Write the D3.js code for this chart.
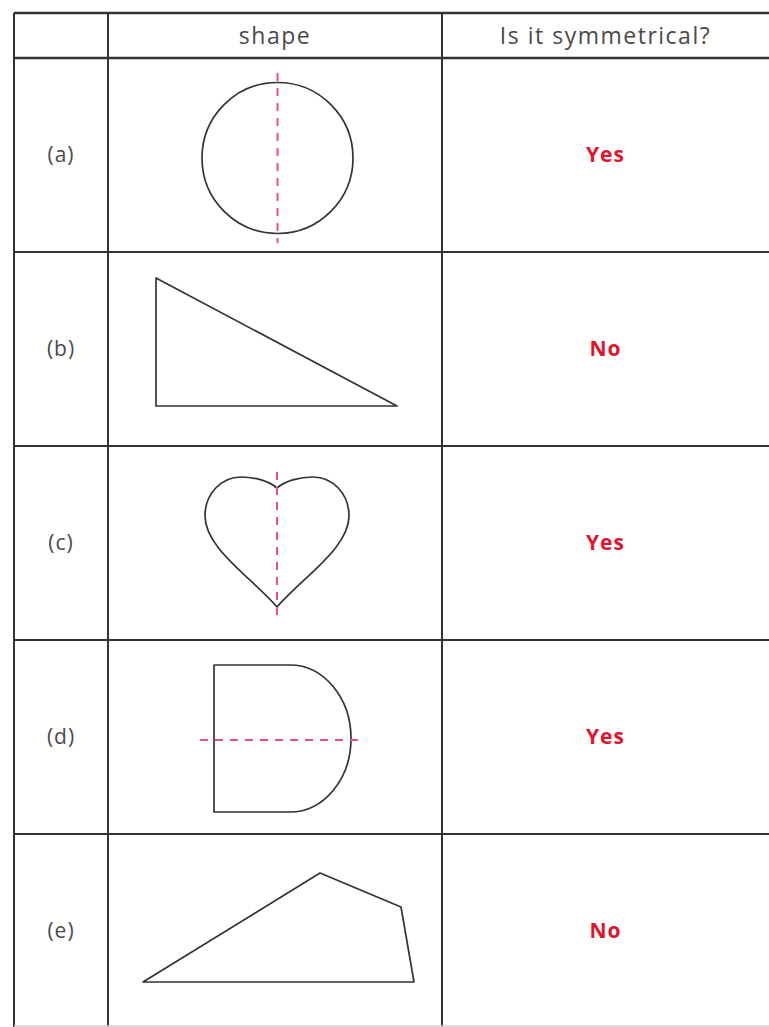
<!DOCTYPE html>
<html>
<head>
<meta charset="utf-8">
<script src="https://cdn.jsdelivr.net/npm/d3@7"></script>
<style>
  body { margin: 0; background: #fff; }
  #chart { width: 769px; height: 1027px; }
  text { font-family: "Open Sans", Lato, sans-serif; }
</style>
</head>
<body>
<div id="chart"></div>
<script>

// table content
const headers = ["", "shape", "Is it symmetrical?"];
const rowLabels = ["(a)", "(b)", "(c)", "(d)", "(e)"];
const answers = ["Yes", "No", "Yes", "Yes", "No"];

// shapes, in cell units (x from the left of the shape column, y from the top of the row)
const circleShape = { cx: 169.5, cy: 100, r: 75.5 };
const trianglePts = [[48, 26], [48, 154], [289, 154]];
const heartPts = { notch: [169, 42], tip: [169, 161], lobeTop: 31, halfWidth: 72, lobeOffset: 36, sideY: 70 };
const dShape = { left: 106, top: 25, bottom: 172, flatEnd: 182, right: 243 };
const quadPts = [[35, 148], [212, 39], [293, 73], [306, 148]];

// symmetry lines: [x1, y1, x2, y2]
const symLines = [
  [169.5, 15, 169.5, 185],
  null,
  [169, 26, 169, 174],
  [92, 100, 255, 100],
  null
];

/*
SVG
*/
const width = 769;
const height = 1027;

const svg = d3.select("#chart")
  .append("svg")
  .attr("width", width)
  .attr("height", height);

/*
SCALES
*/
const colEdges = [14, 108, 442, 769];
const headerTop = 13;
const headerBottom = 58;
const rowH = 194;

const yRow = d3.scaleLinear()
  .domain([0, 5])
  .range([headerBottom, headerBottom + 5 * rowH]);

const colMid = i => (colEdges[i] + colEdges[i + 1]) / 2;

/*
GRID
*/
const grid = svg.append("g")
  .attr("stroke", "#333")
  .attr("stroke-width", 2);

// horizontal lines
const hLines = [headerTop, headerBottom].concat(d3.range(1, 5).map(i => yRow(i)));
grid.selectAll("line.h")
  .data(hLines)
  .enter()
  .append("line")
  .attr("class", "h")
  .attr("x1", colEdges[0])
  .attr("x2", width)
  .attr("y1", d => d)
  .attr("y2", d => d)
  .attr("stroke-width", (d, i) => i < 2 ? 2.5 : 2);

// bottom faint line
svg.append("line")
  .attr("x1", colEdges[0]).attr("x2", width)
  .attr("y1", height - 1).attr("y2", height - 1)
  .attr("stroke", "#cfcfcf").attr("stroke-width", 1.5);

// vertical lines
grid.selectAll("line.v")
  .data(colEdges.slice(0, 3))
  .enter()
  .append("line")
  .attr("class", "v")
  .attr("x1", d => d)
  .attr("x2", d => d)
  .attr("y1", headerTop)
  .attr("y2", height);

/*
HEADER
*/
svg.selectAll("text.head")
  .data(headers)
  .enter()
  .append("text")
  .attr("class", "head")
  .attr("x", (d, i) => colMid(i))
  .attr("y", (headerTop + headerBottom) / 2)
  .attr("dy", "0.35em")
  .attr("text-anchor", "middle")
  .attr("font-size", 23)
  .attr("letter-spacing", 1.5)
  .attr("fill", "#4a4a4a")
  .text(d => d);

/*
ROW LABELS AND ANSWERS
*/
svg.selectAll("text.label")
  .data(rowLabels)
  .enter()
  .append("text")
  .attr("class", "label")
  .attr("x", colMid(0))
  .attr("y", (d, i) => yRow(i + 0.5))
  .attr("dy", "0.35em")
  .attr("text-anchor", "middle")
  .attr("font-size", 21)
  .attr("letter-spacing", 1)
  .attr("fill", "#4a4a4a")
  .text(d => d);

svg.selectAll("text.answer")
  .data(answers)
  .enter()
  .append("text")
  .attr("class", "answer")
  .attr("x", colMid(2))
  .attr("y", (d, i) => yRow(i + 0.5))
  .attr("dy", "0.35em")
  .attr("text-anchor", "middle")
  .attr("font-size", 21)
  .attr("font-weight", "bold")
  .attr("letter-spacing", 1)
  .attr("fill", "#e3132f")
  .text(d => d);

/*
SHAPES
*/
const cells = svg.selectAll("g.cell")
  .data(rowLabels)
  .enter()
  .append("g")
  .attr("class", "cell")
  .attr("transform", (d, i) => `translate(${colEdges[1]},${yRow(i)})`);

const shapeStyle = sel => sel
  .attr("fill", "none")
  .attr("stroke", "#333")
  .attr("stroke-width", 1.7)
  .attr("stroke-linejoin", "round");

// (a) circle
cells.filter((d, i) => i === 0)
  .append("circle")
  .attr("cx", circleShape.cx)
  .attr("cy", circleShape.cy)
  .attr("r", circleShape.r)
  .call(shapeStyle);

// (b) triangle
const polyLine = d3.line().curve(d3.curveLinearClosed);
cells.filter((d, i) => i === 1)
  .append("path")
  .attr("d", polyLine(trianglePts))
  .call(shapeStyle);

// (c) heart
function heartPath(h) {
  const [nx, ny] = h.notch;
  const [tx, ty] = h.tip;
  const p = d3.path();
  [1, -1].forEach(s => {
    p.moveTo(nx, ny);
    p.bezierCurveTo(nx + s * 8, ny - 7, nx + s * 22, h.lobeTop, nx + s * h.lobeOffset, h.lobeTop);
    p.bezierCurveTo(nx + s * 56, h.lobeTop, nx + s * h.halfWidth, h.sideY - 22, nx + s * h.halfWidth, h.sideY);
    p.bezierCurveTo(nx + s * h.halfWidth, h.sideY + 32, nx + s * 26, ty - 30, tx, ty);
  });
  return p.toString();
}
cells.filter((d, i) => i === 2)
  .append("path")
  .attr("d", heartPath(heartPts))
  .call(shapeStyle);

// (d) D shape
function dPath(s) {
  const ry = (s.bottom - s.top) / 2;
  const rx = s.right - s.flatEnd;
  return `M${s.left},${s.top}H${s.flatEnd}A${rx},${ry} 0 0 1 ${s.flatEnd},${s.bottom}H${s.left}Z`;
}
cells.filter((d, i) => i === 3)
  .append("path")
  .attr("d", dPath(dShape))
  .call(shapeStyle);

// (e) irregular quadrilateral
cells.filter((d, i) => i === 4)
  .append("path")
  .attr("d", polyLine(quadPts))
  .call(shapeStyle);

// symmetry lines
cells.filter((d, i) => symLines[i] !== null)
  .append("line")
  .attr("x1", d => symLines[rowLabels.indexOf(d)][0])
  .attr("y1", d => symLines[rowLabels.indexOf(d)][1])
  .attr("x2", d => symLines[rowLabels.indexOf(d)][2])
  .attr("y2", d => symLines[rowLabels.indexOf(d)][3])
  .attr("stroke", "#e8527a")
  .attr("stroke-width", 2)
  .attr("stroke-dasharray", "8,7");

</script>
</body>
</html>
